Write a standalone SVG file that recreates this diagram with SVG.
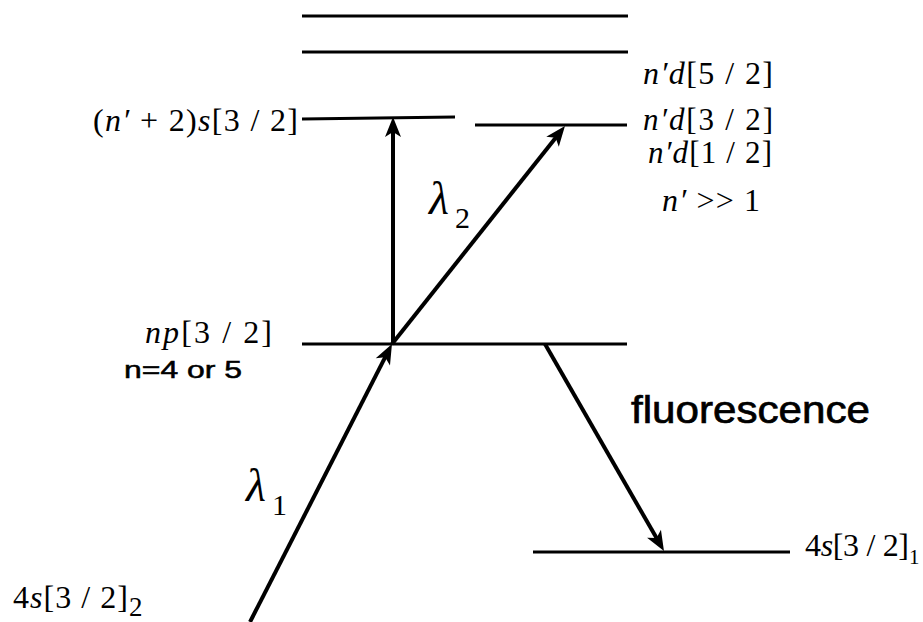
<svg xmlns="http://www.w3.org/2000/svg" width="923" height="622" viewBox="0 0 923 622">
<style>
.lv{stroke:#000;stroke-width:3.2;fill:none;stroke-linecap:butt}
.ar{stroke:#000;stroke-width:4;fill:none;marker-end:url(#ah)}
.t{font-family:"Liberation Serif","Times New Roman",serif;font-size:32px;fill:#000}
.i{font-style:italic}
.lam{font-family:"Liberation Serif","Times New Roman",serif;font-size:46px;font-style:italic;fill:#000}
.sub{font-family:"Liberation Serif","Times New Roman",serif;fill:#000}
.s{font-family:"Liberation Sans",Arial,sans-serif;fill:#000}
</style>
<defs>
<marker id="ah" markerUnits="userSpaceOnUse" markerWidth="24" markerHeight="20" viewBox="0 -10 24 20" refX="8" refY="0" orient="auto" overflow="visible">
<path d="M20,0 L0,-8 L5,0 L0,8 Z" fill="#000"/>
</marker>
</defs>
<rect width="923" height="622" fill="#fff"/>
<g id="level-top1"><line class="lv" x1="302" y1="16" x2="628" y2="16"/></g>
<g id="level-top2"><line class="lv" x1="302" y1="52" x2="628" y2="52"/></g>
<g id="level-ns"><line class="lv" x1="302" y1="119" x2="455" y2="117"/>
<text class="t" x="93" y="131" textLength="205" lengthAdjust="spacing">(<tspan class="i">n′</tspan> + 2)<tspan class="i">s</tspan>[3 / 2]</text></g>
<g id="level-nd"><line class="lv" x1="475" y1="125" x2="627" y2="125"/>
<text class="t" x="643" y="84" textLength="130" lengthAdjust="spacing"><tspan class="i">n′d</tspan>[5 / 2]</text>
<text class="t" x="643" y="130" style="font-size:31px" textLength="130" lengthAdjust="spacing"><tspan class="i">n′d</tspan>[3 / 2]</text>
<text class="t" x="648" y="163" style="font-size:31px" textLength="124" lengthAdjust="spacing"><tspan class="i">n′d</tspan>[1 / 2]</text>
<text class="t" x="662" y="211" textLength="98" lengthAdjust="spacing"><tspan class="i">n′</tspan> &gt;&gt; 1</text></g>
<g id="level-np"><line class="lv" x1="302" y1="344" x2="627" y2="344"/>
<text class="t" x="145" y="343" textLength="127" lengthAdjust="spacing"><tspan class="i">np</tspan>[3 / 2]</text>
<text class="s" x="124" y="378" style="font-size:23px" stroke="#000" stroke-width="0.5" textLength="118" lengthAdjust="spacingAndGlyphs">n=4 or 5</text></g>
<g id="level-4s1"><line class="lv" x1="533" y1="552" x2="790" y2="552"/>
<text class="t" x="805" y="556" textLength="104" lengthAdjust="spacing">4<tspan class="i">s</tspan>[3 / 2]</text>
<text class="sub" x="909" y="564" style="font-size:21px">1</text></g>
<g id="level-4s2">
<text class="t" x="13" y="608" textLength="115" lengthAdjust="spacing">4<tspan class="i">s</tspan>[3 / 2]</text>
<text class="sub" x="129" y="616" style="font-size:27px">2</text></g>
<g id="labels">
<text class="lam" x="429" y="214">λ</text><text class="sub" x="455" y="228" style="font-size:30px">2</text>
<text class="lam" x="246" y="501">λ</text><text class="sub" x="272" y="515" style="font-size:30px">1</text>
<text class="s" x="631" y="423" style="font-size:38px" stroke="#000" stroke-width="0.7" textLength="239" lengthAdjust="spacingAndGlyphs">fluorescence</text>
</g>
<g id="connectors">
<line class="ar" x1="393" y1="344" x2="393" y2="129"/>
<line class="ar" x1="392" y1="344" x2="557.5" y2="135.4"/>
<line class="ar" x1="250" y1="622" x2="386.5" y2="354.7"/>
<line class="ar" x1="545" y1="344" x2="658" y2="540.6"/>
</g>
</svg>
